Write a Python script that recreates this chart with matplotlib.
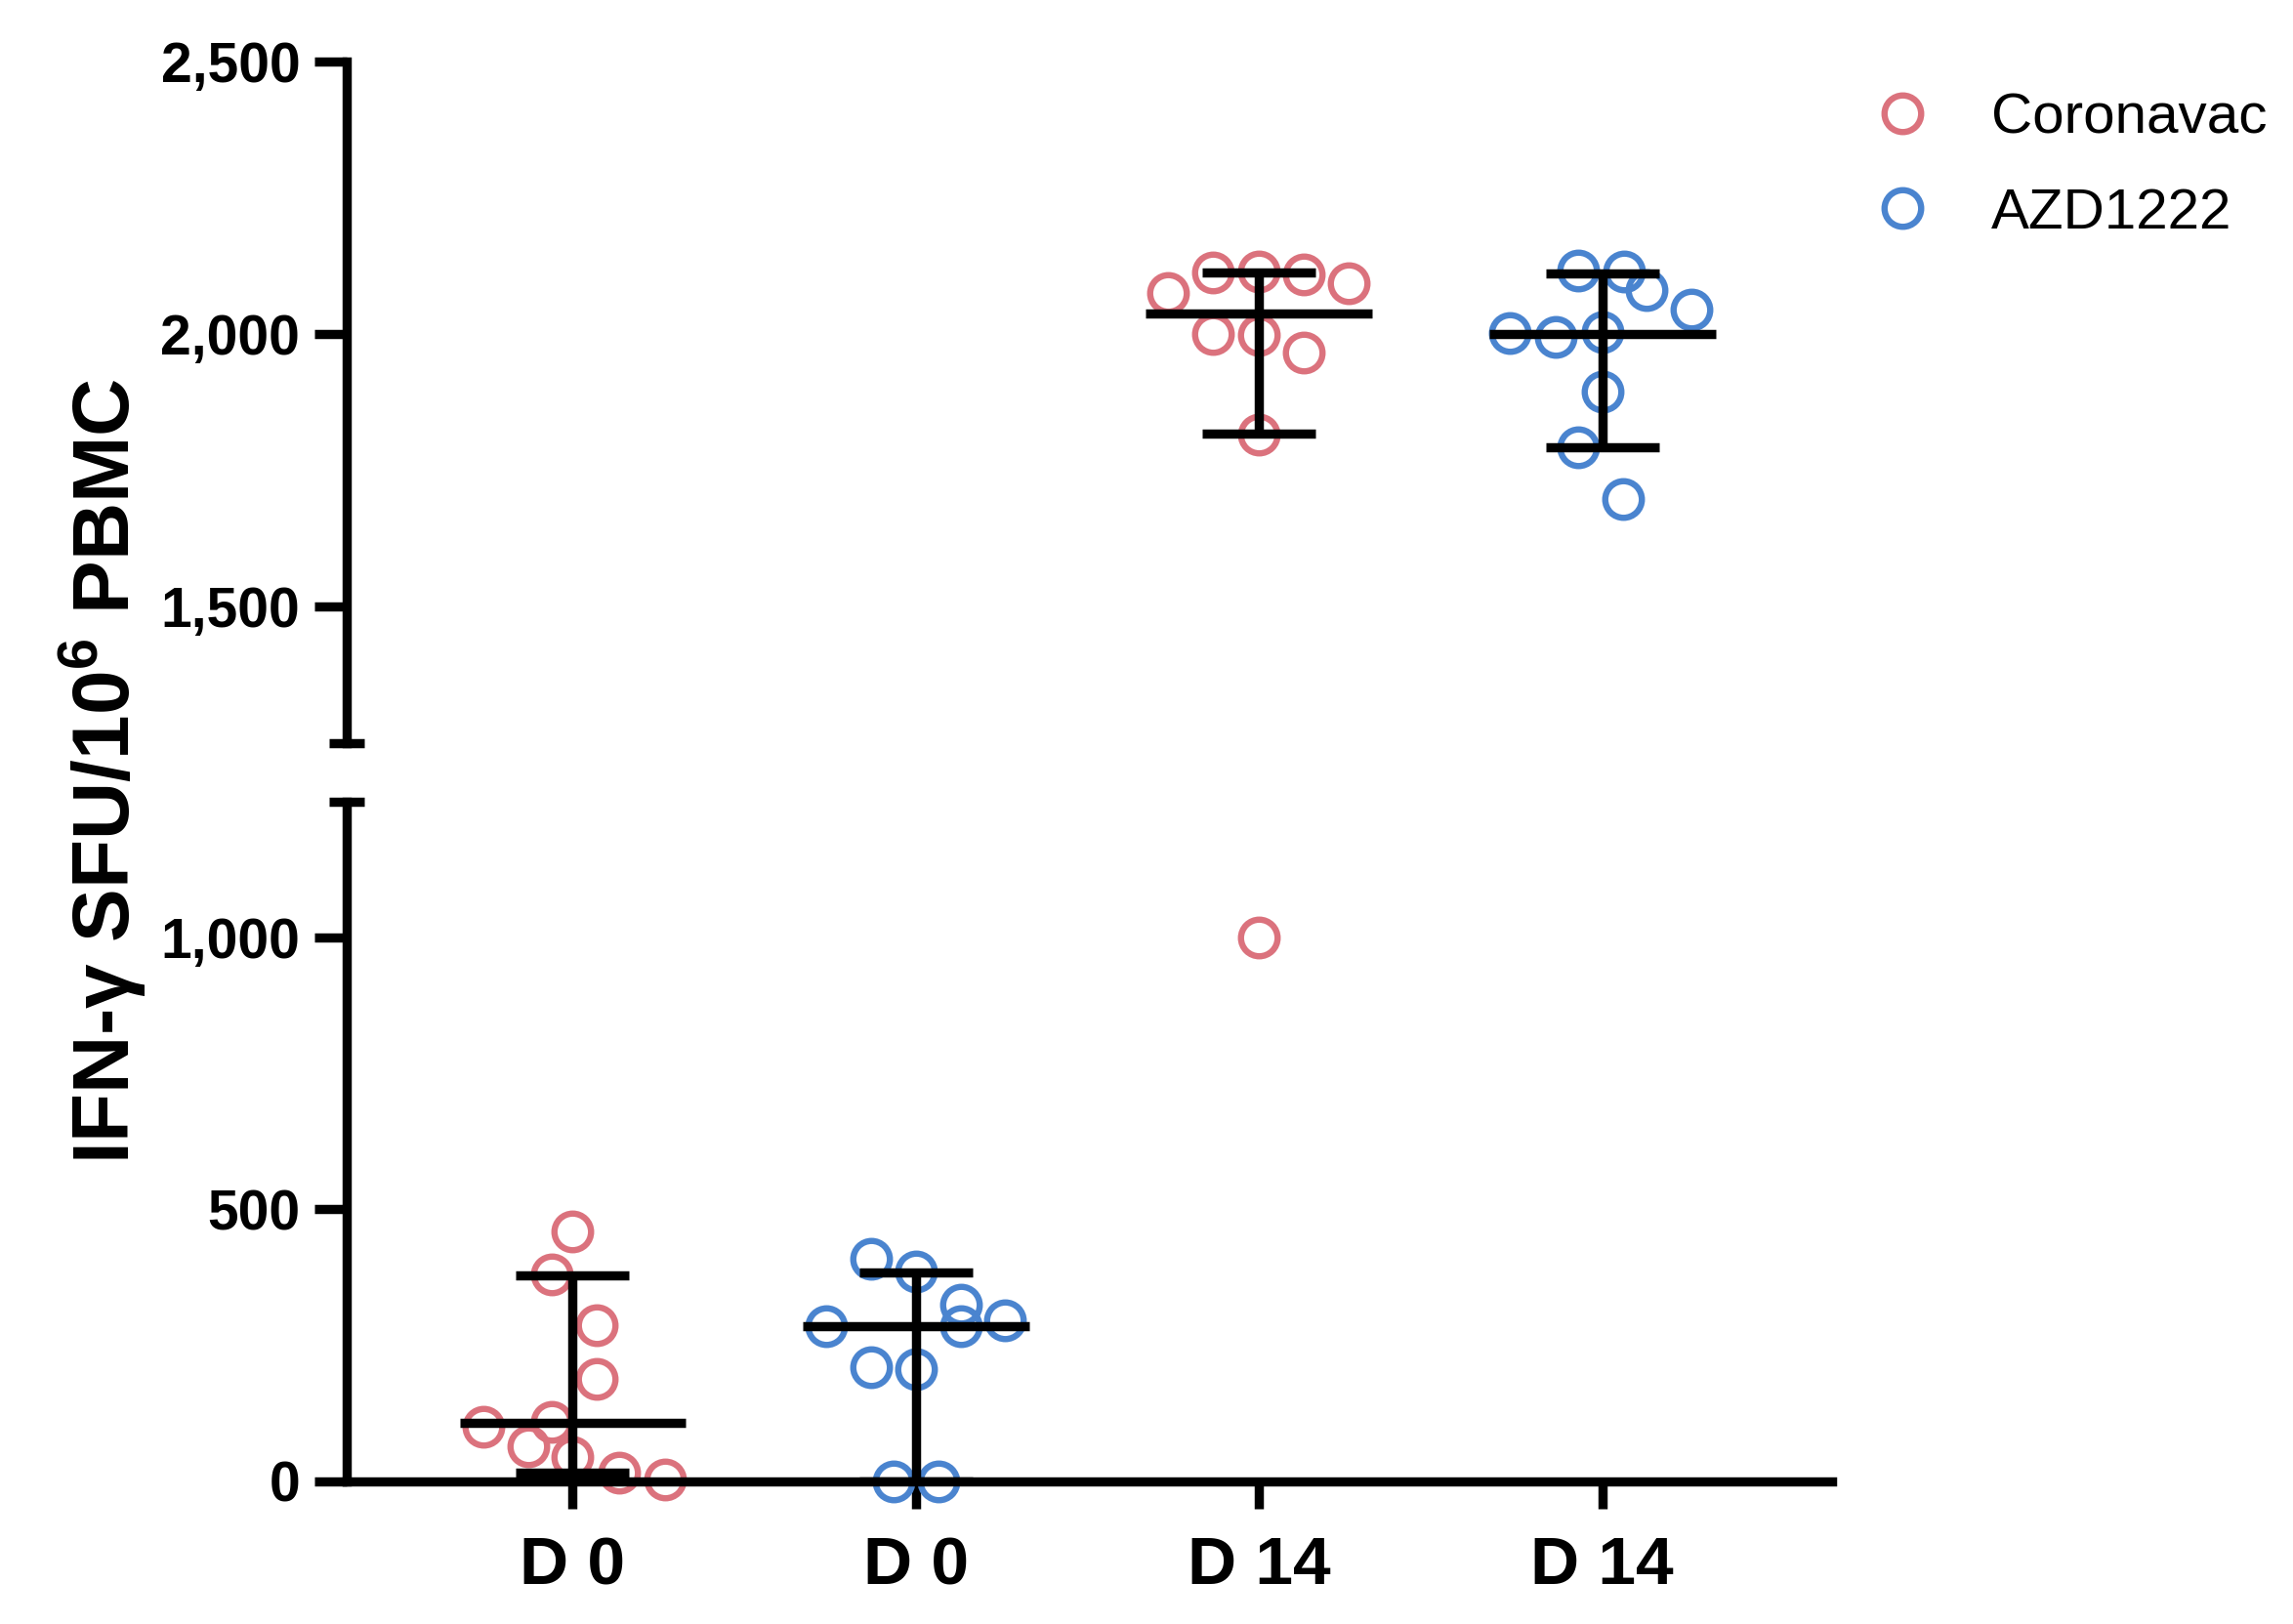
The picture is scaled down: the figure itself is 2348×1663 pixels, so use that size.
import numpy as np
import matplotlib
matplotlib.use("Agg")
import matplotlib.pyplot as plt
from matplotlib.lines import Line2D
from matplotlib.ticker import FuncFormatter

plt.rcParams['font.family'] = ['Liberation Sans', 'DejaVu Sans']
plt.rcParams['mathtext.fontset'] = 'custom'
plt.rcParams['mathtext.rm'] = 'Liberation Sans'
plt.rcParams['mathtext.bf'] = 'Liberation Sans:bold'

# data
categories = ['D 0', 'D 0', 'D 14', 'D 14']
groups = ['Coronavac', 'AZD1222', 'Coronavac', 'AZD1222']

coronavac_d0 = [460, 381, 287, 188, 109, 100, 65, 45, 15, 3]
azd_d0 = [409, 385, 325, 295, 286, 286, 210, 206, 0, 0]
coronavac_d14 = [2075, 2113, 2115, 2110, 2094, 2000, 1998, 1966, 1815, 1000]
azd_d14 = [2117, 2115, 2080, 2045, 2002, 1995, 2004, 1895, 1793, 1697]

medians = [107, 286, 2037, 2000]
q1 = [15, 0, 1818, 1792]
q3 = [378, 383, 2113, 2111]

# horizontal scatter of the dots (GraphPad style jitter)
jitter = [
    [0, -0.06, 0.07, 0.07, -0.06, -0.26, -0.13, 0, 0.135, 0.27],
    [-0.13, 0, 0.13, 0.26, 0.13, -0.26, -0.13, 0, -0.065, 0.065],
    [-0.265, -0.135, 0, 0.13, 0.26, -0.135, 0, 0.13, 0, 0],
    [-0.07, 0.065, 0.13, 0.26, -0.27, -0.135, 0, 0, -0.07, 0.06],
]

colors = {'Coronavac': '#DB727D', 'AZD1222': '#4A84CF'}
values = [coronavac_d0, azd_d0, coronavac_d14, azd_d14]

fig = plt.figure(figsize=(11.74, 8.315), dpi=200)
ax_bot = fig.add_axes([0.151, 0.0879, 0.648, 0.4187])
ax_top = fig.add_axes([0.151, 0.5426, 0.648, 0.4196])

lw = 3.4
ms, mew = 13.5, 2.3
fmt = FuncFormatter(lambda v, p: f'{v:,.0f}')
for ax in (ax_bot, ax_top):
    ax.set_xlim(-0.66, 3.67)
    for s in ('top', 'right'):
        ax.spines[s].set_visible(False)
    ax.spines['left'].set_linewidth(lw)
    ax.spines['bottom'].set_linewidth(lw)
    ax.tick_params(axis='y', width=lw, length=12, labelsize=20.5, pad=5)
    ax.yaxis.set_major_formatter(fmt)

ax_bot.set_ylim(0, 1250)
ax_top.set_ylim(1250, 2500)
ax_bot.set_yticks([0, 500, 1000])
ax_top.set_yticks([1500, 2000, 2500])
ax_top.spines['bottom'].set_visible(False)
ax_top.tick_params(axis='x', bottom=False, labelbottom=False)

ax_bot.set_xticks(range(len(categories)))
ax_bot.set_xticklabels(categories, fontsize=25, fontweight='bold')
ax_bot.tick_params(axis='x', width=lw, length=10, pad=10)
for ax in (ax_bot, ax_top):
    for lab in ax.get_yticklabels():
        lab.set_fontweight('bold')

# dots
for i, (vals, dx) in enumerate(zip(values, jitter)):
    xs = i + np.array(dx)
    vals = np.array(vals)
    c = colors[groups[i]]
    for ax, lo, hi in ((ax_bot, -1, 1250), (ax_top, 1250, 3000)):
        m = (vals >= lo) & (vals < hi)
        ax.plot(xs[m], vals[m], 'o', ms=ms, mfc='none', mec=c, mew=mew,
                clip_on=False, zorder=2)

# median with interquartile range
for i in range(len(categories)):
    ax = ax_top if medians[i] > 1250 else ax_bot
    ax.hlines(medians[i], i - 0.33, i + 0.33, color='black', lw=lw, zorder=3)
    ax.hlines([q1[i], q3[i]], i - 0.165, i + 0.165, color='black', lw=lw, zorder=3)
    ax.vlines(i, q1[i], q3[i], color='black', lw=lw, zorder=3)

# axis break caps
ax_top.plot([0], [0], marker='_', ms=13, mew=lw, color='black',
            transform=ax_top.transAxes, clip_on=False)
ax_bot.plot([0], [1], marker='_', ms=13, mew=lw, color='black',
            transform=ax_bot.transAxes, clip_on=False)

fig.text(0.045, 0.525, r'IFN-γ SFU/10$^{\mathbf{6}}$ PBMC', rotation=90,
         ha='center', va='center', fontsize=29.5, fontweight='bold')

handles = [Line2D([], [], ls='none', marker='o', ms=ms, mfc='none', mec=colors[g], mew=mew)
           for g in ('Coronavac', 'AZD1222')]
fig.legend(handles, ['Coronavac', 'AZD1222'], loc='upper left',
           bbox_to_anchor=(0.795, 0.975), frameon=False, fontsize=21,
           handlelength=1.0, handletextpad=1.05, labelspacing=0.75)

fig.savefig('out.png', dpi=200)
